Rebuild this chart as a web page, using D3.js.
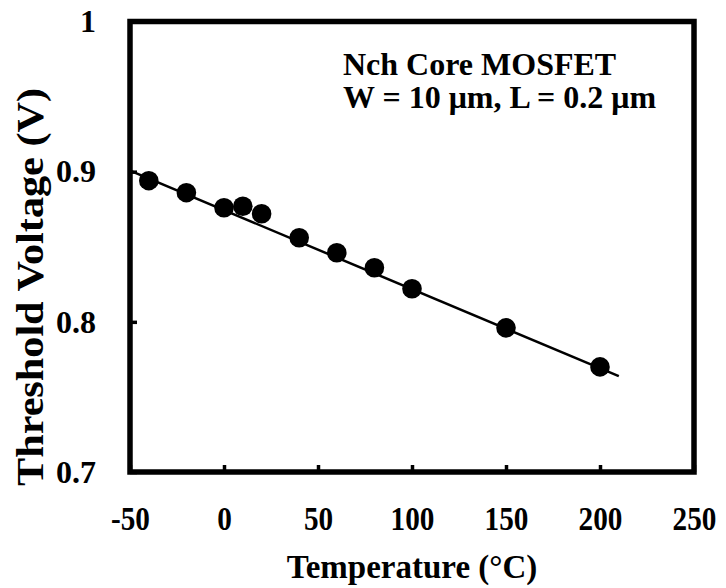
<!DOCTYPE html>
<html>
<head>
<meta charset="utf-8">
<script src="https://cdn.jsdelivr.net/npm/d3@7"></script>
<style>
  body { margin: 0; background: #fff; }
  text { font-family: "Liberation Serif", "Times New Roman", serif; font-weight: bold; fill: #000; }
</style>
</head>
<body>
<div id="chart"></div>
<script>
// measured data
const temps = [-40, -20, 0, 10, 20, 40, 60, 80, 100, 150, 200];
const vth = [0.894, 0.886, 0.876, 0.877, 0.872, 0.856, 0.846, 0.836, 0.822, 0.796, 0.770];

// linear fit drawn across the plot
const fitT = [-50, 210];
const fitV = [0.9007, 0.7638];

const xTicks = [-50, 0, 50, 100, 150, 200, 250];
const xTickLabels = ["-50", "0", "50", "100", "150", "200", "250"];
const yTicks = [0.7, 0.8, 0.9, 1];
const yTickLabels = ["0.7", "0.8", "0.9", "1"];

const width = 726;
const height = 588;
const margin = { top: 21.5, right: 32, bottom: 116, left: 130 };

const svg = d3.select("#chart")
  .append("svg")
  .attr("width", width)
  .attr("height", height);

const x = d3.scaleLinear()
  .domain([-50, 250])
  .range([margin.left, width - margin.right]);

const y = d3.scaleLinear()
  .domain([0.7, 1])
  .range([height - margin.bottom, margin.top]);

// axes, ticks pointing inwards
const xAxis = svg.append("g")
  .attr("transform", `translate(0,${y(0.7)})`)
  .call(d3.axisBottom(x).tickValues(xTicks).tickSizeInner(-7).tickSizeOuter(0).tickPadding(34)
    .tickFormat((d, i) => xTickLabels[i]));

const yAxis = svg.append("g")
  .attr("transform", `translate(${x(-50)},0)`)
  .call(d3.axisLeft(y).tickValues(yTicks).tickSizeInner(-7).tickSizeOuter(0).tickPadding(34)
    .tickFormat((d, i) => yTickLabels[i]));

[xAxis, yAxis].forEach(g => {
  g.select(".domain").remove();
  g.selectAll(".tick line").attr("stroke", "#000").attr("stroke-width", 3.5);
  g.selectAll(".tick text")
    .attr("font-size", 32)
    .attr("font-family", null)
    .attr("fill", "#000");
});
xAxis.selectAll(".tick text")
  .attr("font-size", 34)
  .attr("transform", "scale(0.86,1)");

// fit line
const line = d3.line()
  .x(d => x(d[0]))
  .y(d => y(d[1]));

svg.append("path")
  .datum(d3.zip(fitT, fitV))
  .attr("fill", "none")
  .attr("stroke", "#000")
  .attr("stroke-width", 2.5)
  .attr("d", line);

// markers
svg.append("g")
  .selectAll("circle")
  .data(d3.zip(temps, vth))
  .join("circle")
  .attr("cx", d => x(d[0]))
  .attr("cy", d => y(d[1]))
  .attr("r", 9.8)
  .attr("fill", "#000");

// frame
svg.append("rect")
  .attr("x", x(-50))
  .attr("y", y(1))
  .attr("width", x(250) - x(-50))
  .attr("height", y(0.7) - y(1))
  .attr("fill", "none")
  .attr("stroke", "#000")
  .attr("stroke-width", 5.5);

// annotation
svg.append("text")
  .attr("x", 343)
  .attr("y", 75)
  .attr("font-size", 32)
  .attr("fill", "#000")
  .text("Nch Core MOSFET");

svg.append("text")
  .attr("x", 343)
  .attr("y", 108)
  .attr("font-size", 32)
  .attr("fill", "#000")
  .text("W = 10 \u03bcm, L = 0.2 \u03bcm");

// axis titles
svg.append("text")
  .attr("x", (x(-50) + x(250)) / 2)
  .attr("y", 578)
  .attr("text-anchor", "middle")
  .attr("font-size", 33)
  .attr("fill", "#000")
  .text("Temperature  (\u00b0C)");

svg.append("text")
  .attr("transform", "translate(43,287) rotate(-90)")
  .attr("text-anchor", "middle")
  .attr("font-size", 37)
  .attr("fill", "#000")
  .attr("textLength", 398)
  .attr("lengthAdjust", "spacingAndGlyphs")
  .text("Threshold  Voltage (V)");
</script>
</body>
</html>
